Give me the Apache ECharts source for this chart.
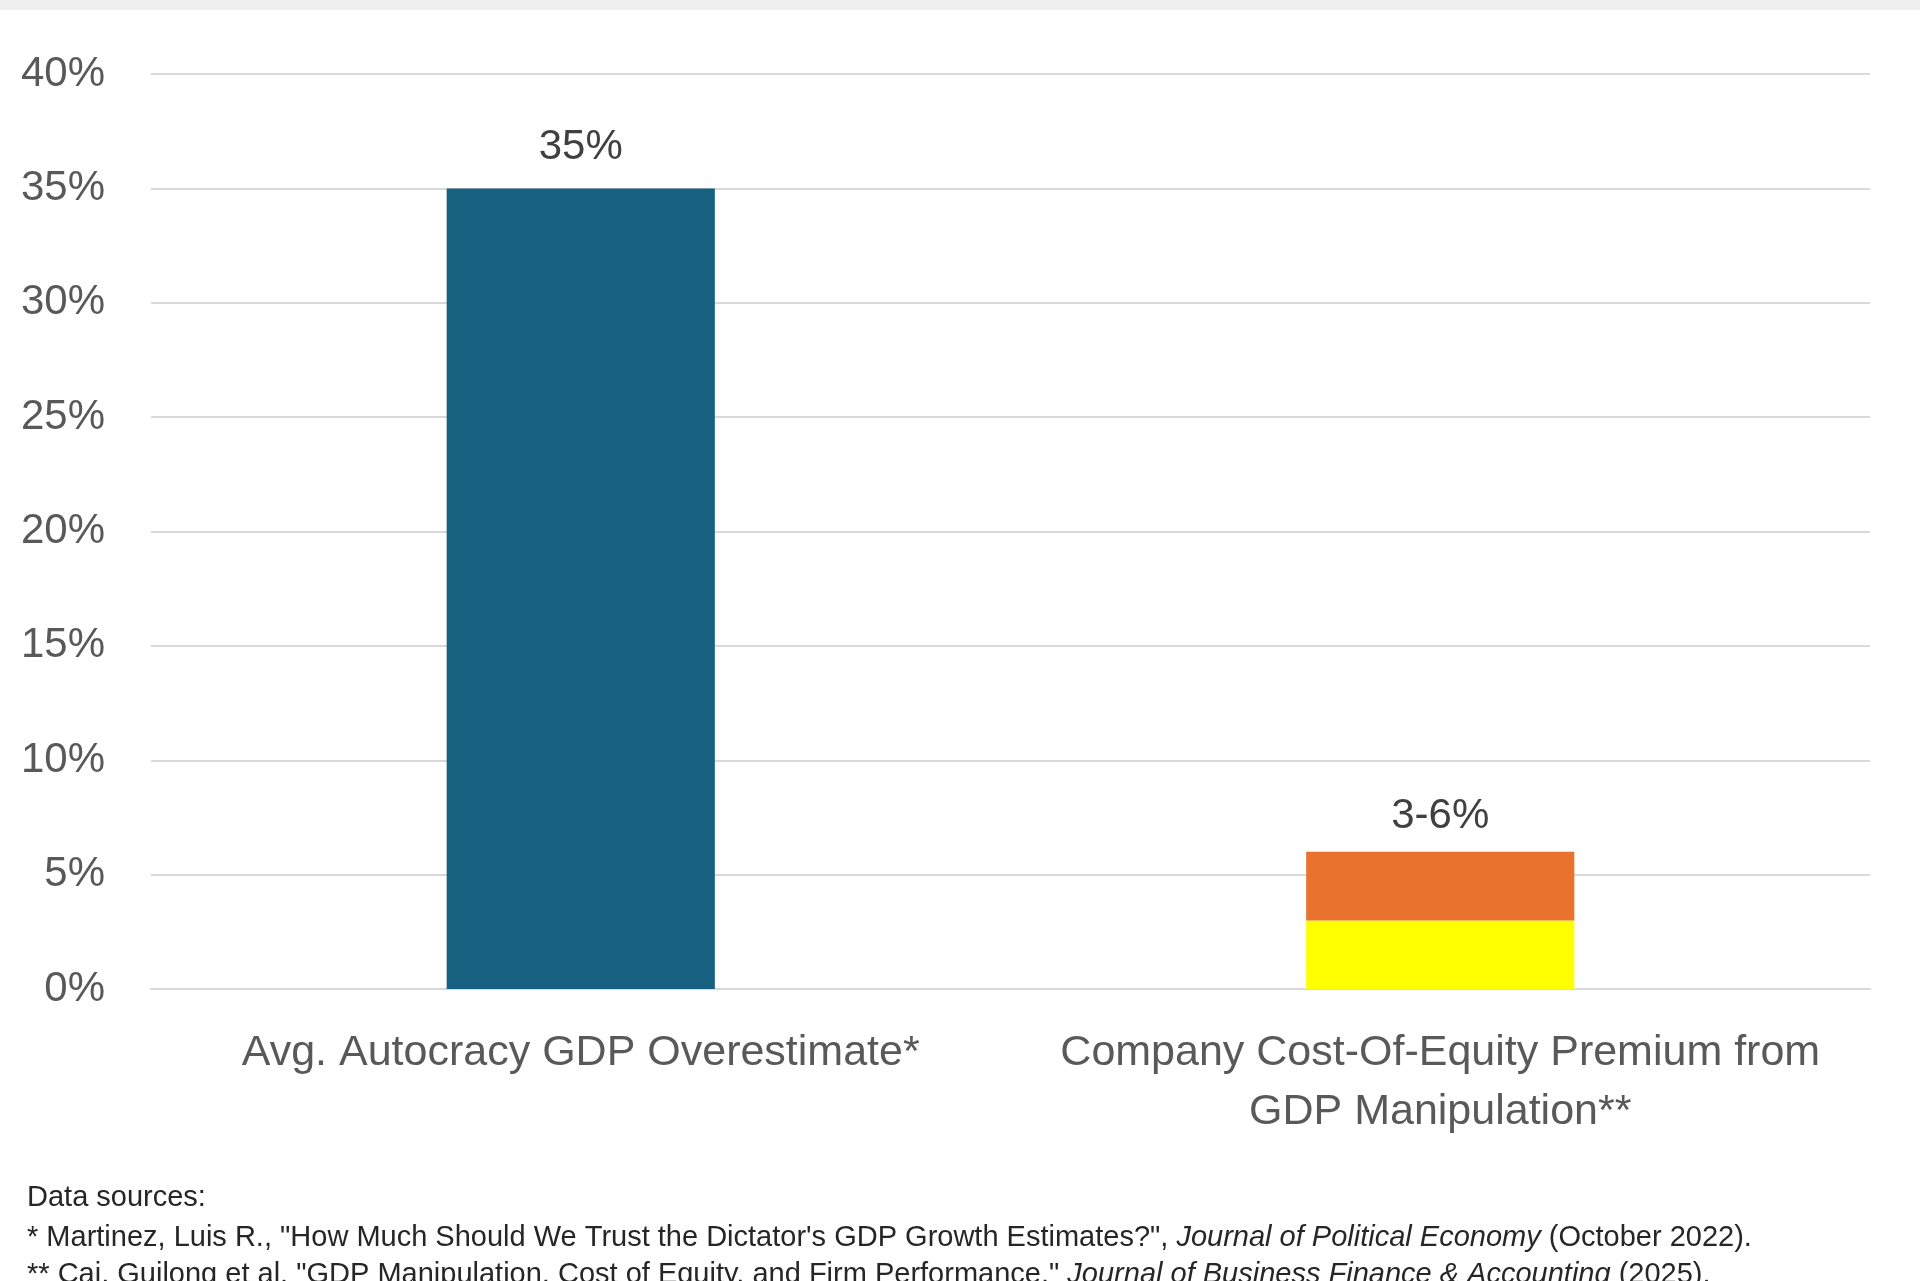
<!DOCTYPE html>
<html>
<head>
<meta charset="utf-8">
<title>GDP overestimate chart</title>
<script src="https://cdn.jsdelivr.net/npm/echarts@6/dist/echarts.min.js"></script>
<style>
  html, body { margin: 0; padding: 0; background: #fff; }
  #chart { width: 1920px; height: 1281px; }
</style>
</head>
<body>
<div id="chart"></div>
<script>
/* ---------- data ---------- */
var categories = [
  "Avg. Autocracy GDP Overestimate*",
  "Company Cost-Of-Equity Premium from\nGDP Manipulation**"
];
var overestimate = [35, null];   // blue bar
var premiumLow = [null, 3];      // yellow part (0-3%)
var premiumExtra = [null, 3];    // orange part (3-6%)
var valueLabels = ["35%", "3-6%"];
var yTicks = [0, 5, 10, 15, 20, 25, 30, 35, 40];

var footLines = [
  "Data sources:",
  "* Martinez, Luis R., \"How Much Should We Trust the Dictator's GDP Growth Estimates?\", {i|Journal of Political Economy} (October 2022).",
  "** Cai, Guilong et al. \"GDP Manipulation, Cost of Equity, and Firm Performance,\" {i|Journal of Business Finance & Accounting} (2025)."
];

/* ---------- chart ---------- */
var FONT = "'Liberation Sans', Arial, sans-serif";
var chart = echarts.init(document.getElementById("chart"));

var footY = [1199, 1239, 1276];
var graphics = [{
  type: "rect", left: 0, top: 0,
  shape: { width: 1920, height: 10 },
  style: { fill: "#f0f0f0" }, silent: true
}];
footLines.forEach(function(t, i) {
  graphics.push({
    type: "text", left: 27, top: footY[i] - 16,
    style: {
      text: t, fill: "#262626", font: "29px " + FONT,
      rich: { i: { fontStyle: "italic", fontSize: 29, fontFamily: FONT, fill: "#262626" } }
    }
  });
});

function labelFor(idx) {
  return function(p) { return valueLabels[p.dataIndex]; };
}

chart.setOption({
  animation: false,
  textStyle: { fontFamily: FONT },
  grid: { left: 151, right: 50, top: 74, bottom: 292 },
  xAxis: {
    type: "category",
    data: categories,
    axisTick: { show: false },
    axisLine: { lineStyle: { color: "#d9d9d9", width: 2 } },
    axisLabel: {
      color: "#595959", fontSize: 43, lineHeight: 59, margin: 35,
      fontFamily: FONT, interval: 0
    }
  },
  yAxis: {
    type: "value",
    min: yTicks[0], max: yTicks[yTicks.length - 1], interval: 5,
    axisLine: { show: false },
    axisTick: { show: false },
    splitLine: { lineStyle: { color: "#d9d9d9", width: 2 } },
    axisLabel: {
      color: "#595959", fontSize: 42, margin: 46, fontFamily: FONT,
      formatter: function(v) { return v + "%"; }
    }
  },
  series: [
    {
      type: "bar", stack: "all", data: overestimate, barWidth: "31.2%",
      itemStyle: { color: "#17607f" },
      label: {
        show: true, position: "top", distance: 20,
        color: "#404040", fontSize: 42, fontFamily: FONT,
        formatter: labelFor(0)
      }
    },
    {
      type: "bar", stack: "all", data: premiumLow,
      itemStyle: { color: "#ffff00" }
    },
    {
      type: "bar", stack: "all", data: premiumExtra,
      itemStyle: { color: "#e8722e" },
      label: {
        show: true, position: "top", distance: 14,
        color: "#404040", fontSize: 42, fontFamily: FONT,
        formatter: labelFor(1)
      }
    }
  ],
  graphic: graphics
});
</script>
</body>
</html>
